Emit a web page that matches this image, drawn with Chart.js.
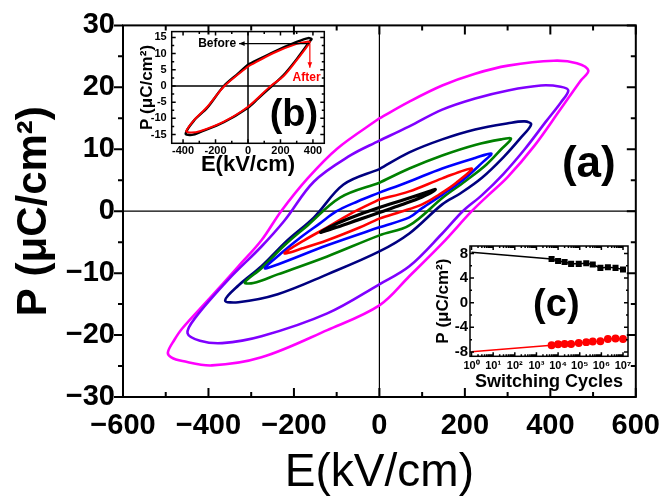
<!DOCTYPE html>
<html>
<head>
<meta charset="utf-8">
<script src="https://cdn.jsdelivr.net/npm/chart.js@4.4.1/dist/chart.umd.min.js"></script>
<style>
html, body { margin: 0; padding: 0; background: #fff; }
#wrap { position: relative; width: 672px; height: 503px; }
canvas { position: absolute; }
</style>
</head>
<body>
<div id="wrap">
  <canvas id="main" width="672" height="503" style="left:0;top:0"></canvas>
  <canvas id="insetB" width="210" height="160" style="left:130px;top:20px"></canvas>
  <canvas id="insetC" width="220" height="160" style="left:420px;top:235px"></canvas>
</div>
<script>
// ---- main panel (a): P-E loops, E in kV/cm, P in uC/cm2 ----
const magentaE = [0, 70, 147, 224, 301, 408, 462, 489, 470, 424, 362, 300, 255, 216, 147, 70, 0, -122, -276, -392, -461, -487, -495, -480, -461, -399, -330, -276, -230, -168, -99, 0];
const magentaP = [15.0, 17.7, 20.3, 22.2, 23.5, 24.3, 23.9, 22.7, 21.0, 16.5, 10.5, 5.5, 2.6, 0, -5.2, -10.5, -15.2, -19.2, -23.6, -24.9, -24.2, -23.6, -22.8, -20.8, -18.9, -14.2, -8.9, -4.7, 0, 5.3, 10.1, 15.0];
const violetE = [0, 70, 147, 224, 301, 378, 424, 442, 425, 390, 340, 290, 240, 195, 147, 70, 0, -122, -276, -368, -420, -449, -432, -353, -276, -222, -153, -68, 0];
const violetP = [11.4, 13.7, 16.4, 18.2, 19.5, 20.3, 20.1, 19.5, 17.6, 14.5, 10.0, 6.0, 2.6, 0, -3.6, -8.9, -11.8, -16.5, -20.2, -21.3, -20.9, -19.7, -17.3, -11.0, -5.7, -1.5, 4.8, 9.0, 11.4];
const navyE = [0, 70, 147, 224, 301, 340, 355, 330, 290, 240, 190, 147, 70, 0, -122, -238, -330, -361, -330, -276, -215, -153, -84, 0];
const navyP = [6.8, 9.5, 11.6, 13.2, 14.2, 14.5, 14.0, 11.8, 8.7, 5.4, 2.9, 1.1, -3.6, -6.5, -10.2, -13.4, -14.7, -14.4, -12.0, -8.9, -4.7, -1.0, 4.3, 6.8];
const greenE = [0, 70, 147, 224, 285, 308, 285, 250, 200, 150, 70, 0, -122, -238, -295, -315, -276, -222, -168, -92, 0];
const greenP = [4.6, 6.9, 9.0, 10.7, 11.6, 11.7, 10.0, 7.5, 4.8, 2.3, -2.3, -3.9, -7.3, -10.2, -11.6, -11.5, -9.2, -5.5, -2.3, 2.2, 4.6];
const blueE = [0, 70, 147, 224, 262, 240, 200, 150, 100, 70, 0, -122, -238, -268, -230, -184, -140, -100, -50, 0];
const blueP = [3.0, 4.8, 6.9, 8.6, 9.3, 7.8, 5.3, 2.8, 0.5, -1.0, -2.6, -5.5, -8.6, -9.2, -6.8, -4.2, -2.0, 0, 1.6, 3.0];
const redE = [0, 70, 147, 216, 180, 140, 100, 50, 0, -45, -122, -180, -222, -176, -122, -70, 0];
const redP = [1.9, 3.2, 5.3, 6.9, 4.6, 2.7, 1.1, -0.1, -1.2, -2.6, -4.7, -6.0, -6.8, -4.7, -2.6, -0.5, 1.9];
const blackE = [0, 50, 100, 131, 100, 50, 0, -50, -100, -138, -100, -50, 0];
const blackP = [0.6, 1.7, 2.8, 3.5, 2.3, 1.0, -0.2, -1.4, -2.6, -3.4, -2.0, -0.6, 0.6];

const mainXTicks = [-600, -400, -200, 0, 200, 400, 600];
const mainXLabels = ['\u2212600', '\u2212400', '\u2212200', '0', '200', '400', '600'];
const mainXMinor = [-500, -300, -100, 100, 300, 500];
const mainYTicks = [-30, -20, -10, 0, 10, 20, 30];
const mainYLabels = ['\u221230', '\u221220', '\u221210', '0', '10', '20', '30'];
const mainYMinor = [-25, -15, -5, 5, 15, 25];

// ---- inset (b): loop before / after cycling ----
const beforeE = [0, 157, 300, 371, 392, 381, 300, 218, 147, 60, 0, -149, -292, -345, -384, -333, -251, -149, -60, 0];
const beforeP = [6.6, 10.5, 13.6, 14.8, 14.5, 13.8, 8.3, 3.3, 0, -4.0, -6.7, -11.2, -14.2, -15.1, -14.7, -10.7, -6.7, 0, 3.9, 6.6];
const afterE = [0, 157, 300, 365, 381, 300, 218, 140, 0, -149, -292, -350, -380, -330, -250, -145, 0];
const afterP = [6.0, 10.2, 13.0, 13.7, 13.5, 8.0, 3.0, 0, -6.4, -11.0, -13.9, -14.4, -13.9, -10.4, -6.4, 0, 6.0];
const bXTicks = [-400, -200, 0, 200, 400];
const bXLabels = ['-400', '-200', '0', '200', '400'];
const bXMinor = [-300, -100, 100, 300];
const bYTicks = [-15, -10, -5, 0, 5, 10, 15];
const bYLabels = ['-15', '-10', '-5', '0', '5', '10', '15'];
const bYMinor = [-12.5, -7.5, -2.5, 2.5, 7.5, 12.5];

// ---- inset (c): +Pr / -Pr vs switching cycles ----
const cycles = [1, 5e3, 1e4, 2e4, 4e4, 9e4, 2e5, 4e5, 9e5, 2e6, 4.5e6, 1e7];
const prPlus = [8.2, 7.1, 6.75, 6.6, 6.3, 6.3, 6.4, 6.2, 5.65, 5.75, 5.65, 5.4];
const prMinus = [-7.95, -6.9, -6.75, -6.7, -6.7, -6.55, -6.4, -6.3, -6.25, -5.9, -5.8, -5.9];
const cXTicks = [1, 1e1, 1e2, 1e3, 1e4, 1e5, 1e6, 1e7];
const cXLabels = ['10\u2070', '10\u00b9', '10\u00b2', '10\u00b3', '10\u2074', '10\u2075', '10\u2076', '10\u2077'];
const cYTicks = [-8, -4, 0, 4, 8];
const cYLabels = ['-8', '-4', '0', '4', '8'];
const cYMinor = [-6, -2, 2, 6];

const FONT = "'Liberation Sans', Arial, Helvetica, sans-serif";
Chart.defaults.font.family = FONT;
Chart.defaults.color = '#000';

const pts = (xs, ys) => xs.map((v, i) => ({x: v, y: ys[i]}));
const setTicks = vals => s => { s.ticks = vals.map(v => ({value: v})); };

// frame, mirrored ticks, zero lines and labels drawn through the chart's scales
const framePlugin = {
  id: 'frame',
  beforeDatasetsDraw(chart, args, o) {
    if (!o.zero) return;
    const {ctx, chartArea: a, scales: {x, y}} = chart;
    ctx.save();
    ctx.strokeStyle = '#000';
    ctx.lineWidth = o.zero;
    const x0 = x.getPixelForValue(0), y0 = y.getPixelForValue(0);
    ctx.beginPath();
    ctx.moveTo(x0, a.top); ctx.lineTo(x0, a.bottom);
    ctx.moveTo(a.left, y0); ctx.lineTo(a.right, y0);
    ctx.stroke();
    ctx.restore();
  },
  afterDraw(chart, args, o) {
    const {ctx, chartArea: a, scales: {x, y}} = chart;
    const s = o.sides;
    ctx.save();
    ctx.strokeStyle = '#000';
    ctx.lineWidth = o.lw;
    ctx.strokeRect(a.left, a.top, a.right - a.left, a.bottom - a.top);
    ctx.beginPath();
    const xt = (v, len) => {
      const px = x.getPixelForValue(v);
      ctx.moveTo(px, a.bottom); ctx.lineTo(px, a.bottom - len * s.bottom);
      ctx.moveTo(px, a.top); ctx.lineTo(px, a.top + len * s.top);
    };
    const yt = (v, len) => {
      const py = y.getPixelForValue(v);
      ctx.moveTo(a.left, py); ctx.lineTo(a.left + len * s.left, py);
      ctx.moveTo(a.right, py); ctx.lineTo(a.right - len * s.right, py);
    };
    o.xMajor.forEach(v => xt(v, o.major));
    o.xMinor.forEach(v => xt(v, o.minor));
    o.yMajor.forEach(v => yt(v, o.major));
    o.yMinor.forEach(v => yt(v, o.minor));
    ctx.lineWidth = o.tickW || o.lw;
    ctx.stroke();
    (o.arrows || []).forEach(ar => {
      const x1 = x.getPixelForValue(ar.from[0]), y1 = y.getPixelForValue(ar.from[1]);
      const x2 = x.getPixelForValue(ar.to[0]), y2 = y.getPixelForValue(ar.to[1]);
      const ang = Math.atan2(y2 - y1, x2 - x1);
      ctx.strokeStyle = ar.color; ctx.fillStyle = ar.color; ctx.lineWidth = 1.2;
      ctx.beginPath(); ctx.moveTo(x1, y1); ctx.lineTo(x2, y2); ctx.stroke();
      ctx.beginPath();
      ctx.moveTo(x2, y2);
      ctx.lineTo(x2 - 6 * Math.cos(ang - 0.4), y2 - 6 * Math.sin(ang - 0.4));
      ctx.lineTo(x2 - 6 * Math.cos(ang + 0.4), y2 - 6 * Math.sin(ang + 0.4));
      ctx.closePath(); ctx.fill();
    });
    (o.notes || []).forEach(n => {
      ctx.fillStyle = n.color || '#000';
      ctx.font = n.font;
      ctx.textAlign = 'center';
      ctx.textBaseline = 'middle';
      ctx.fillText(n.text, x.getPixelForValue(n.x), y.getPixelForValue(n.y));
    });
    ctx.restore();
  }
};

// ---------------- main chart ----------------
const loops = [
  {e: blackE, p: blackP, color: '#000000', w: 3.2},
  {e: redE, p: redP, color: '#ff0000', w: 2.6},
  {e: blueE, p: blueP, color: '#0000ff', w: 2.6},
  {e: greenE, p: greenP, color: '#008000', w: 2.6},
  {e: navyE, p: navyP, color: '#000080', w: 2.6},
  {e: violetE, p: violetP, color: '#8000ff', w: 2.6},
  {e: magentaE, p: magentaP, color: '#ff00ff', w: 2.6}
];

new Chart(document.getElementById('main'), {
  type: 'scatter',
  data: {
    datasets: loops.map(l => ({
      data: pts(l.e, l.p), showLine: true, borderColor: l.color, borderWidth: l.w,
      pointRadius: 0, tension: 0.35, fill: false
    }))
  },
  options: {
    responsive: false, animation: false,
    layout: {padding: {top: 17, right: 30, left: 0, bottom: 0}},
    scales: {
      x: {
        type: 'linear', min: -600, max: 600,
        afterBuildTicks: setTicks(mainXTicks),
        afterFit: s => { s.height = 106; },
        ticks: {callback: (v, i) => mainXLabels[i], font: {size: 29, weight: 'bold'}, padding: 12, maxRotation: 0, autoSkip: false},
        grid: {display: false, drawTicks: false}, border: {display: false},
        title: {display: true, text: 'E(kV/cm)', font: {size: 46, lineHeight: 1}, padding: {top: 0, bottom: 7}}
      },
      y: {
        type: 'linear', min: -30, max: 30,
        afterBuildTicks: setTicks(mainYTicks),
        afterFit: s => { s.width = 123; },
        ticks: {callback: (v, i) => mainYLabels[i], font: {size: 29, weight: 'bold'}, padding: 8, autoSkip: false},
        grid: {display: false, drawTicks: false}, border: {display: false},
        title: {display: true, text: 'P (\u03bcC/cm\u00b2)', font: {size: 42, weight: 'bold', lineHeight: 1}, padding: {top: 13, bottom: 0}}
      }
    },
    plugins: {
      legend: {display: false}, tooltip: {enabled: false},
      frame: {
        lw: 2, zero: 1.2, major: 9, minor: 5,
        sides: {left: -1, right: 1, top: 1, bottom: 1},
        xMajor: mainXTicks, xMinor: mainXMinor, yMajor: mainYTicks, yMinor: mainYMinor,
        notes: [{text: '(a)', x: 490, y: 7.5, font: 'bold 44px ' + FONT}]
      }
    }
  },
  plugins: [framePlugin]
});

// ---------------- inset (b) ----------------
new Chart(document.getElementById('insetB'), {
  type: 'scatter',
  data: {
    datasets: [
      {data: pts(afterE, afterP), showLine: true, borderColor: '#ff0000', borderWidth: 2, pointRadius: 0, tension: 0.3},
      {data: pts(beforeE, beforeP), showLine: true, borderColor: '#000000', borderWidth: 2.4, pointRadius: 0, tension: 0.3}
    ]
  },
  options: {
    responsive: false, animation: false,
    layout: {padding: {top: 8.3, right: 15.7, left: 0, bottom: 0}},
    scales: {
      x: {
        type: 'linear', min: -470, max: 470,
        afterBuildTicks: setTicks(bXTicks),
        afterFit: s => { s.height = 36.7; },
        ticks: {callback: (v, i) => bXLabels[i], font: {size: 11, weight: 'bold'}, padding: 1, maxRotation: 0, autoSkip: false},
        grid: {display: false, drawTicks: false}, border: {display: false},
        title: {display: true, text: 'E(kV/cm)', font: {size: 22, weight: 'bold', lineHeight: 1}, padding: {top: 0, bottom: 4}}
      },
      y: {
        type: 'linear', min: -17.7, max: 16.8,
        afterBuildTicks: setTicks(bYTicks),
        afterFit: s => { s.width = 41.7; },
        ticks: {callback: (v, i) => bYLabels[i], font: {size: 11, weight: 'bold'}, padding: 5, autoSkip: false},
        grid: {display: false, drawTicks: false}, border: {display: false},
        title: {display: true, text: 'P (\u03bcC/cm\u00b2)', font: {size: 17, weight: 'bold', lineHeight: 1}, padding: {top: 9, bottom: 0}}
      }
    },
    plugins: {
      legend: {display: false}, tooltip: {enabled: false},
      frame: {
        lw: 1.5, zero: 1.5, major: 4, minor: 2.5,
        sides: {left: 1, right: 1, top: 1, bottom: 1},
        xMajor: bXTicks, xMinor: bXMinor, yMajor: bYTicks, yMinor: bYMinor,
        arrows: [
          {from: [381, 13.1], to: [-55, 13.1], color: '#000'},
          {from: [381, 13.1], to: [381, 5.6], color: '#ff0000'}
        ],
        notes: [
          {text: 'Before', x: -190, y: 13.1, font: 'bold 12px ' + FONT},
          {text: 'After', x: 361, y: 2.6, font: 'bold 12px ' + FONT, color: '#ff0000'},
          {text: '(b)', x: 283, y: -9.2, font: 'bold 38px ' + FONT}
        ]
      }
    }
  },
  plugins: [framePlugin]
});

// ---------------- inset (c) ----------------
const cMinor = [];
for (let d = 1; d < 1e7; d *= 10) for (let k = 2; k <= 9; k++) cMinor.push(k * d);

new Chart(document.getElementById('insetC'), {
  type: 'scatter',
  data: {
    datasets: [
      {data: pts(cycles, prPlus), showLine: true, borderColor: '#000', backgroundColor: '#000', borderWidth: 1.5,
       pointStyle: 'rect', pointRadius: cycles.map((c, i) => i === 0 ? 0 : 3.2), tension: 0},
      {data: pts(cycles, prMinus), showLine: true, borderColor: '#ff0000', backgroundColor: '#ff0000', borderWidth: 1.5,
       pointStyle: 'circle', pointRadius: cycles.map((c, i) => i === 0 ? 0 : 3.2), tension: 0}
    ]
  },
  options: {
    responsive: false, animation: false,
    layout: {padding: {top: 6.3, right: 12, left: 0, bottom: 0}},
    scales: {
      x: {
        type: 'logarithmic', min: 0.85, max: 1.7e7,
        afterBuildTicks: setTicks(cXTicks),
        afterFit: s => { s.height = 38.7; },
        ticks: {callback: (v, i) => cXLabels[i], font: {size: 11, weight: 'bold'}, padding: 3, maxRotation: 0, autoSkip: false},
        grid: {display: false, drawTicks: false}, border: {display: false},
        title: {display: true, text: 'Switching Cycles', font: {size: 18, weight: 'bold', lineHeight: 1}, padding: {top: 0, bottom: 4}}
      },
      y: {
        type: 'linear', min: -8.7, max: 9.2,
        afterBuildTicks: setTicks(cYTicks),
        afterFit: s => { s.width = 50; },
        ticks: {callback: (v, i) => cYLabels[i], font: {size: 15, weight: 'bold'}, padding: 2, autoSkip: false},
        grid: {display: false, drawTicks: false}, border: {display: false},
        title: {display: true, text: 'P (\u03bcC/cm\u00b2)', font: {size: 17, weight: 'bold', lineHeight: 1}, padding: {top: 15, bottom: 0}}
      }
    },
    plugins: {
      legend: {display: false}, tooltip: {enabled: false},
      frame: {
        lw: 1.5, zero: 0, major: 4, minor: 2,
        sides: {left: 1, right: 1, top: 1, bottom: 1},
        xMajor: cXTicks, xMinor: cMinor, yMajor: cYTicks, yMinor: cYMinor,
        notes: [{text: '(c)', x: 8300, y: -0.4, font: 'bold 38px ' + FONT}]
      }
    }
  },
  plugins: [framePlugin]
});
</script>
</body>
</html>
